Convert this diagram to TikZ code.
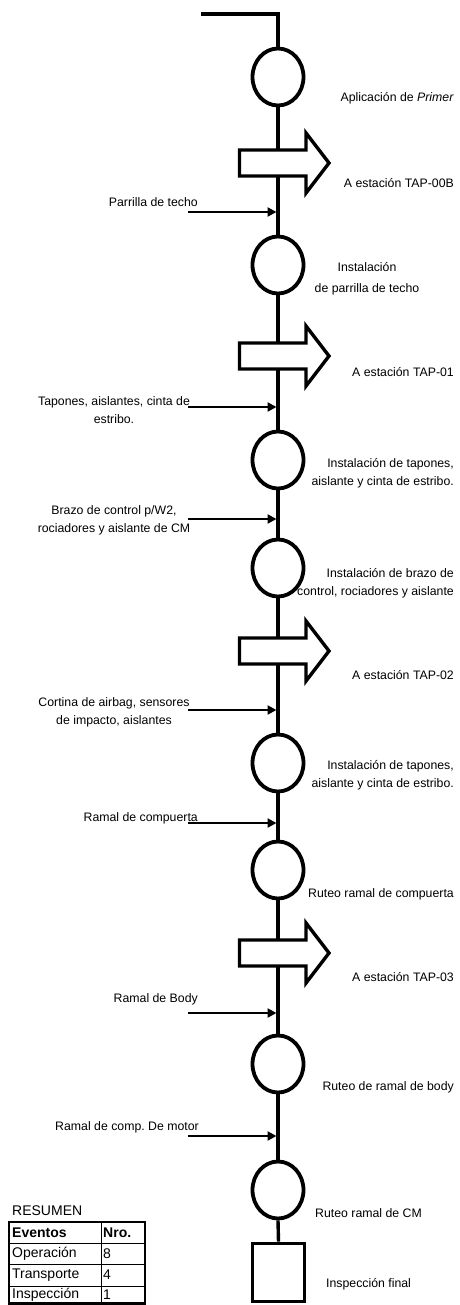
\documentclass[tikz,border=0pt]{standalone}
\usepackage{fontspec}
\setmainfont{Liberation Sans}
\usetikzlibrary{arrows.meta,shapes.geometric}
\begin{document}
\begin{tikzpicture}[x=1pt,y=-1pt,
  flow/.style={line width=3.4pt},
  opnode/.style={draw, ellipse, line width=3.8pt, minimum width=51pt, minimum height=57pt, inner sep=0pt},
  inspnode/.style={draw, rectangle, line width=3.8pt, minimum width=52pt, minimum height=58pt, inner sep=0pt},
  feed/.style={line width=2.5pt, -{Triangle[length=9pt,width=9pt]}},
  lbl/.style={font=\fontsize{12.3}{18}\selectfont, inner sep=0pt},
  tlbl/.style={font=\fontsize{14}{16}\selectfont, inner sep=0pt, anchor=west},
  transport/.pic={\draw[line width=3.4pt, fill=white, miter limit=10]
      (-38.5,-13) -- (28,-13) -- (28,-30) -- (51,0) -- (28,30) -- (28,13) -- (-38.5,13) -- cycle;}
]
\useasboundingbox (0,0) rectangle (459,1305);

% operations and final inspection
\node[opnode] (o1) at (278,77) {};
\node[opnode] (o2) at (278,265) {};
\node[opnode] (o3) at (278,460) {};
\node[opnode] (o4) at (278,568) {};
\node[opnode] (o5) at (278,763) {};
\node[opnode] (o6) at (278,870) {};
\node[opnode] (o7) at (278,1064) {};
\node[opnode] (o8) at (278,1190) {};
\node[inspnode] (insp) at (278.5,1272.5) {};

% main flow line
\coordinate (start) at (201,14);
\draw[flow, line join=miter] (start) -| (o1.north);
\draw[flow] (o1.south) -- (o2.north);
\draw[flow] (o2.south) -- (o3.north);
\draw[flow] (o3.south) -- (o4.north);
\draw[flow] (o4.south) -- (o5.north);
\draw[flow] (o5.south) -- (o6.north);
\draw[flow] (o6.south) -- (o7.north);
\draw[flow] (o7.south) -- (o8.north);
\draw[flow] (o8.south) -- (insp.north);

% transports
\pic (t1) at (278,163) {transport};
\pic (t2) at (278,356) {transport};
\pic (t3) at (278,651) {transport};
\pic (t4) at (278,953) {transport};

% incoming materials
\coordinate (a1) at (188,212);  \coordinate (b1) at (276.5,212);
\coordinate (a2) at (188,407);  \coordinate (b2) at (276.5,407);
\coordinate (a3) at (188,519);  \coordinate (b3) at (276.5,519);
\coordinate (a4) at (188,710);  \coordinate (b4) at (276.5,710);
\coordinate (a5) at (188,823);  \coordinate (b5) at (276.5,823);
\coordinate (a6) at (188,1013); \coordinate (b6) at (276.5,1013);
\coordinate (a7) at (188,1136); \coordinate (b7) at (276.5,1136);
\foreach \i in {1,...,7} \draw[feed] (a\i) -- (b\i);

% labels on the right
\node[lbl, anchor=east] (l1) at (454,98) {Aplicación de \textit{Primer}};
\node[lbl, anchor=east] (lt1) at (454,183) {A estación TAP-00B};
\node[lbl, align=center] (l2) at (367,279) {Instalación\\[3pt]de parrilla de techo};
\node[lbl, anchor=east] (lt2) at (454,372) {A estación TAP-01};
\node[lbl, anchor=east, align=right] (l3) at (454,473) {Instalación de tapones,\\aislante y cinta de estribo.};
\node[lbl, anchor=east, align=right] (l4) at (454,583) {Instalación de brazo de\\control, rociadores y aislante};
\node[lbl, anchor=east] (lt3) at (454,675) {A estación TAP-02};
\node[lbl, anchor=east, align=right] (l5) at (454,775) {Instalación de tapones,\\aislante y cinta de estribo.};
\node[lbl, anchor=east] (l6) at (454,894) {Ruteo ramal de compuerta};
\node[lbl, anchor=east] (lt4) at (454,977) {A estación TAP-03};
\node[lbl, anchor=east] (l7) at (454,1087) {Ruteo de ramal de body};
\node[lbl, anchor=west] (l8) at (315,1213) {Ruteo ramal de CM};
\node[lbl, anchor=west] (l9) at (326,1284) {Inspección final};

% labels on the left
\node[lbl, anchor=east] (m1) at (198,202) {Parrilla de techo};
\node[lbl, align=center] (m2) at (114,410) {Tapones, aislantes, cinta de\\estribo.};
\node[lbl, align=center] (m3) at (114,520) {Brazo de control p/W2,\\rociadores y aislante de CM};
\node[lbl, align=center] (m4) at (114,712) {Cortina de airbag, sensores\\de impacto, aislantes};
\node[lbl, anchor=east] (m5) at (198,818) {Ramal de compuerta};
\node[lbl, anchor=east] (m6) at (198,999) {Ramal de Body};
\node[lbl, anchor=east] (m7) at (199,1127) {Ramal de comp.\ De motor};

% summary table
\node[tlbl] (res) at (12,1211) {RESUMEN};
\draw[line width=1pt] (9,1243) -- (145,1243) (9,1264) -- (145,1264) (9,1286) -- (145,1286)
      (101,1222) -- (101,1303.5);
\draw[line width=2.6pt] (9,1222) rectangle (145,1303.5);
\node[tlbl, font=\fontsize{14}{16}\selectfont\bfseries] (h1) at (12,1233) {Eventos};
\node[tlbl, font=\fontsize{14}{16}\selectfont\bfseries] (h2) at (103,1233) {Nro.};
\node[tlbl] (r1) at (12,1254) {Operación};
\node[tlbl] (v1) at (103,1254) {8};
\node[tlbl] (r2) at (12,1275) {Transporte};
\node[tlbl] (v2) at (103,1275) {4};
\node[tlbl] (r3) at (12,1295) {Inspección};
\node[tlbl] (v3) at (103,1295) {1};
\end{tikzpicture}
\end{document}
